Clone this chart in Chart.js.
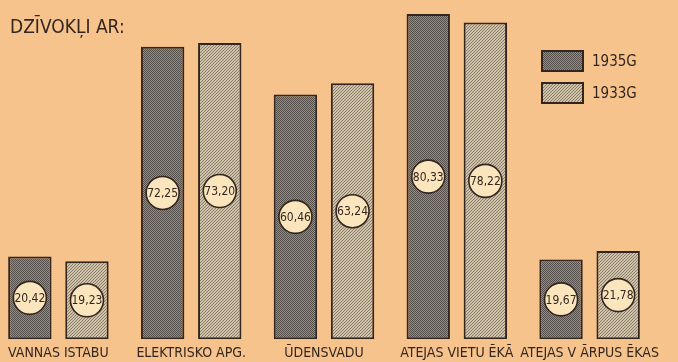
<!DOCTYPE html>
<html>
<head>
<meta charset="utf-8">
<script src="https://cdn.jsdelivr.net/npm/chart.js@4.4.1/dist/chart.umd.min.js"></script>
<style>
  html, body { margin: 0; padding: 0; overflow: hidden; background: #f6c38d; }
  #wrap { position: absolute; left: -8px; top: 0; width: 686px; height: 362px; }
</style>
</head>
<body>
<div id="wrap"><canvas id="chart"></canvas></div>
<script>
var categories = ["VANNAS ISTABU", "ELEKTRISKO APG.", "ŪDENSVADU", "ATEJAS VIETU ĒKĀ", "ATEJAS V ĀRPUS ĒKAS"];
var values1935 = [20.42, 72.25, 60.46, 80.33, 19.67];
var values1933 = [19.23, 73.20, 63.24, 78.22, 21.78];
var seriesLabels = ["1935G", "1933G"];
var titleText = "DZĪVOKĻI AR:";

var ink = "#33261f";
var shift = 8; // canvas is moved 8px to the left

// dark bars: fine checker, light bars: diagonal hatching
function checkerPattern() {
    var c = document.createElement("canvas");
    c.width = 2; c.height = 2;
    var g = c.getContext("2d");
    g.fillStyle = "#948b82"; g.fillRect(0, 0, 2, 2);
    g.fillStyle = "#55504b"; g.fillRect(0, 0, 1, 1); g.fillRect(1, 1, 1, 1);
    return g.createPattern(c, "repeat");
}
function hatchPattern() {
    var c = document.createElement("canvas");
    c.width = 3; c.height = 3;
    var g = c.getContext("2d");
    g.fillStyle = "#cfc1a6"; g.fillRect(0, 0, 3, 3);
    g.fillStyle = "#8a7f70";
    g.fillRect(2, 0, 1, 1); g.fillRect(1, 1, 1, 1); g.fillRect(0, 2, 1, 1);
    return g.createPattern(c, "repeat");
}
var darkFill = checkerPattern();
var lightFill = hatchPattern();

function fmt(v) {
    return v.toFixed(2).replace(".", ",");
}

// circles with the value in the middle of each bar
var valueCircles = {
    id: "valueCircles",
    afterDatasetsDraw: function(chart) {
        var ctx = chart.ctx;
        chart.data.datasets.forEach(function(ds, i) {
            chart.getDatasetMeta(i).data.forEach(function(bar, j) {
                var cx = bar.x;
                var cy = (bar.y + bar.base) / 2;
                ctx.save();
                ctx.beginPath();
                ctx.arc(cx, cy, 16.5, 0, Math.PI * 2);
                ctx.fillStyle = "#fbe5bd";
                ctx.fill();
                ctx.lineWidth = 1.6;
                ctx.strokeStyle = ink;
                ctx.stroke();
                ctx.fillStyle = ink;
                ctx.font = "12px 'DejaVu Sans Condensed'";
                ctx.textAlign = "center";
                ctx.textBaseline = "middle";
                ctx.fillText(fmt(ds.data[j]), cx, cy + 1);
                ctx.restore();
            });
        });
    }
};

// title and legend in the free space
var extras = {
    id: "extras",
    afterDraw: function(chart) {
        var ctx = chart.ctx;
        ctx.save();
        ctx.fillStyle = ink;
        ctx.font = "19px 'DejaVu Sans Condensed'";
        ctx.textBaseline = "middle";
        ctx.fillText(titleText, 10 + shift, 28);

        var fills = [darkFill, lightFill];
        var ys = [51, 83];
        ctx.font = "15px 'DejaVu Sans Condensed'";
        for (var i = 0; i < 2; i++) {
            ctx.fillStyle = fills[i];
            ctx.fillRect(542 + shift, ys[i], 41, 20);
            ctx.lineWidth = 2;
            ctx.strokeStyle = ink;
            ctx.strokeRect(542 + shift, ys[i], 41, 20);
            ctx.fillStyle = ink;
            ctx.fillText(seriesLabels[i], 592 + shift, ys[i] + 11);
        }
        ctx.restore();
    }
};

new Chart(document.getElementById("chart"), {
    type: "bar",
    data: {
        labels: categories,
        datasets: [{
            label: seriesLabels[0],
            data: values1935,
            backgroundColor: darkFill,
            borderColor: ink,
            borderWidth: 2,
            borderSkipped: false
        }, {
            label: seriesLabels[1],
            data: values1933,
            backgroundColor: lightFill,
            borderColor: ink,
            borderWidth: 2,
            borderSkipped: false
        }]
    },
    options: {
        responsive: true,
        maintainAspectRatio: false,
        animation: false,
        categoryPercentage: 0.86,
        barPercentage: 0.76,
        layout: { padding: { left: 0, right: 22, top: 0, bottom: -6 } },
        plugins: {
            legend: { display: false },
            tooltip: { enabled: false }
        },
        scales: {
            x: {
                grid: { display: false, drawTicks: false },
                border: { display: false },
                ticks: {
                    color: ink,
                    padding: 6,
                    maxRotation: 0,
                    autoSkip: false,
                    font: { family: "'DejaVu Sans Condensed'", size: 14 }
                }
            },
            y: {
                display: false,
                min: 0,
                max: 83.8
            }
        }
    },
    plugins: [valueCircles, extras]
});
</script>
</body>
</html>
